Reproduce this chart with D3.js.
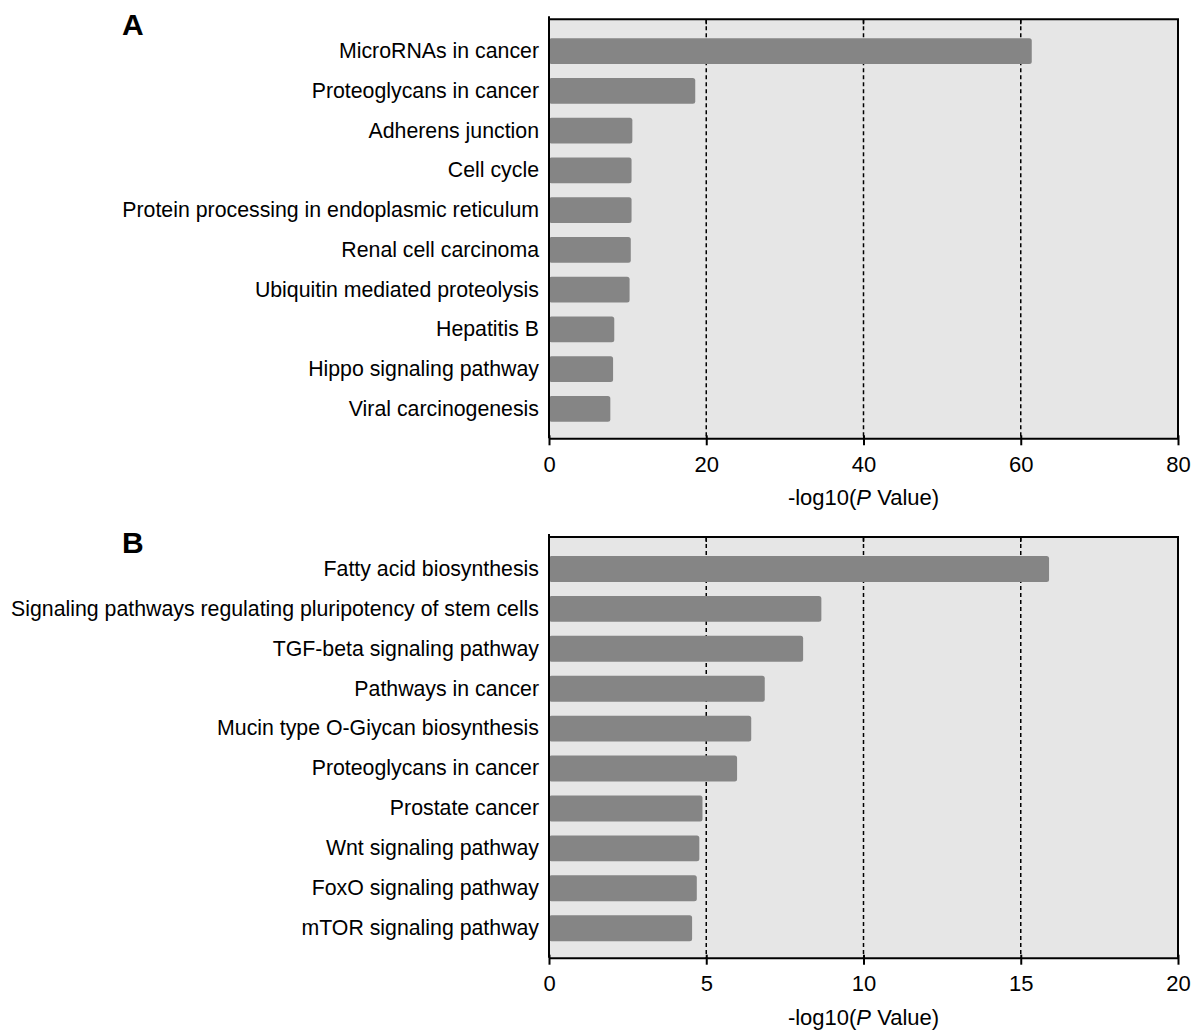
<!DOCTYPE html>
<meta charset="utf-8">
<script src="https://d3js.org/d3.v7.min.js"></script>
<style>
  body { margin: 0; background: #fff; }
  text { font-family: Arial, "Liberation Sans", sans-serif; fill: #000; }
</style>
<div id="chart"></div>
<script>

// panel A: KEGG pathways
var catsA = ["MicroRNAs in cancer", "Proteoglycans in cancer", "Adherens junction", "Cell cycle",
  "Protein processing in endoplasmic reticulum", "Renal cell carcinoma", "Ubiquitin mediated proteolysis",
  "Hepatitis B", "Hippo signaling pathway", "Viral carcinogenesis"];
var valsA = [61.4, 18.6, 10.6, 10.5, 10.5, 10.4, 10.25, 8.3, 8.15, 7.8];
var ticksA = [0, 20, 40, 60, 80];

// panel B
var catsB = ["Fatty acid biosynthesis", "Signaling pathways regulating pluripotency of stem cells",
  "TGF-beta signaling pathway", "Pathways in cancer", "Mucin type O-Giycan biosynthesis",
  "Proteoglycans in cancer", "Prostate cancer", "Wnt signaling pathway", "FoxO signaling pathway",
  "mTOR signaling pathway"];
var valsB = [15.9, 8.66, 8.08, 6.86, 6.43, 5.98, 4.88, 4.78, 4.7, 4.55];
var ticksB = [0, 5, 10, 15, 20];

var width = 1196, height = 1030;
var left = 549, right = 1178;

var svg = d3.select("#chart").append("svg")
    .attr("width", width)
    .attr("height", height);

function drawPanel(cats, vals, ticks, top, bottom, letter, letterY) {
  var g = svg.append("g");

  var x = d3.scaleLinear()
    .domain([ticks[0], ticks[ticks.length - 1]])
    .range([left, right]);

  var y = d3.scaleBand()
    .domain(cats)
    .range([top + 12, bottom - 9.5])
    .paddingInner(0.35)
    .paddingOuter(0.175);

  // grey plot background
  g.append("rect")
    .attr("x", left).attr("y", top)
    .attr("width", right - left).attr("height", bottom - top)
    .attr("fill", "#e6e6e6");

  // dashed gridlines
  var inner = ticks.slice(1, -1);
  g.selectAll(".grid").data(inner).enter().append("line")
    .attr("x1", function(d) { return x(d); })
    .attr("x2", function(d) { return x(d); })
    .attr("y1", top).attr("y2", bottom)
    .attr("stroke", "#000")
    .attr("stroke-width", 1.5)
    .attr("stroke-dasharray", "4,3");

  // little ticks on top frame
  g.selectAll(".ttick").data(inner).enter().append("line")
    .attr("x1", function(d) { return x(d); })
    .attr("x2", function(d) { return x(d); })
    .attr("y1", top).attr("y2", top + 5)
    .attr("stroke", "#000")
    .attr("stroke-width", 1.5);

  // bars
  g.selectAll(".bar").data(vals).enter().append("rect")
    .attr("x", x(0))
    .attr("y", function(d, i) { return y(cats[i]); })
    .attr("width", function(d) { return x(d) - x(0); })
    .attr("height", y.bandwidth())
    .attr("rx", 2.5)
    .attr("fill", "#858585");

  // frame top + right
  g.append("path")
    .attr("d", "M" + left + "," + top + "H" + right + "V" + bottom)
    .attr("fill", "none")
    .attr("stroke", "#000")
    .attr("stroke-width", 2);

  // x axis
  var xa = g.append("g")
    .attr("transform", "translate(0," + bottom + ")")
    .call(d3.axisBottom(x).tickValues(ticks).tickSize(7).tickSizeOuter(0).tickPadding(11));
  xa.select(".domain").attr("stroke-width", 2);
  xa.selectAll(".tick line").attr("stroke-width", 2).attr("y1", -3);
  xa.selectAll("text").style("font-size", "22px").style("font-family", "Arial, 'Liberation Sans', sans-serif");

  // y axis with category labels
  var ya = g.append("g")
    .attr("transform", "translate(" + left + ",0)")
    .call(d3.axisLeft(y).tickSize(0).tickPadding(10));
  ya.select(".domain").attr("stroke-width", 2).attr("d", "M0," + (top - 3) + "V" + bottom);
  ya.selectAll("text").style("font-size", "21.3px").style("font-family", "Arial, 'Liberation Sans', sans-serif");

  // axis title
  var t = g.append("text")
    .attr("x", (left + right) / 2)
    .attr("y", bottom + 67)
    .attr("text-anchor", "middle")
    .style("font-size", "22px");
  t.append("tspan").text("-log10(");
  t.append("tspan").style("font-style", "italic").text("P");
  t.append("tspan").text(" Value)");

  // panel letter
  g.append("text")
    .attr("x", 122).attr("y", letterY)
    .style("font-size", "30px")
    .style("font-weight", "bold")
    .text(letter);
}

drawPanel(catsA, valsA, ticksA, 19.3, 438.3, "A", 35);
drawPanel(catsB, valsB, ticksB, 537, 957.7, "B", 553);

</script>
